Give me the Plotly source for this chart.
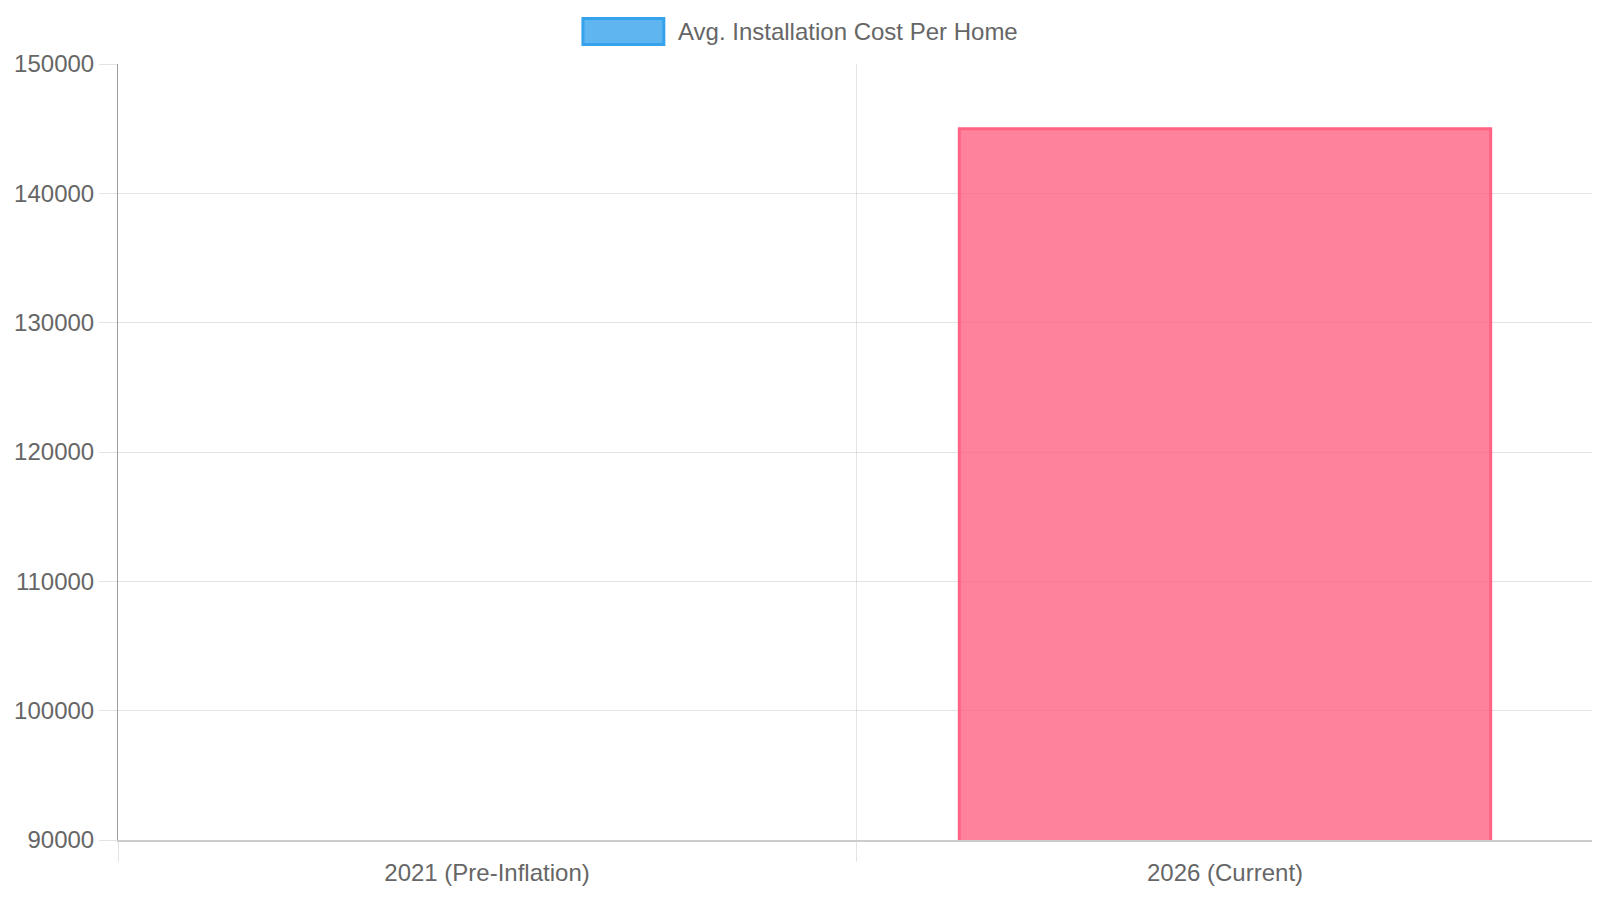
import plotly.graph_objects as go

categories = ['2021 (Pre-Inflation)', '2026 (Current)']
avg_cost = [85000, 145000]
series_name = 'Avg. Installation Cost Per Home'

fill_colors = ['rgba(54,162,235,0.8)', 'rgba(255,99,132,0.8)']
line_colors = ['rgb(54,162,235)', 'rgb(255,99,132)']

font_family = 'Liberation Sans, Arial, Helvetica, sans-serif'
grid = 'rgba(0,0,0,0.11)'

fig = go.Figure(data=[go.Bar(
    x=categories,
    y=avg_cost,
    name=series_name,
    width=0.72,
    marker=dict(color=fill_colors, line=dict(color=line_colors, width=3)),
    showlegend=False,
)])

# chart.js style legend box + label, drawn above the plot area
fig.add_shape(type='rect', xref='paper', yref='paper',
              x0=0.3150, x1=0.3698, y0=1.0251, y1=1.0586,
              fillcolor=fill_colors[0], line=dict(color=line_colors[0], width=3))
fig.add_annotation(text=series_name, xref='paper', yref='paper',
                   x=0.3782, y=1.0419, xanchor='left', yanchor='middle',
                   showarrow=False, font=dict(size=24, color='#666'))

fig.update_xaxes(
    type='category',
    tickson='boundaries',
    showgrid=True, gridcolor=grid, gridwidth=1,
    ticks='outside', ticklen=20, tickcolor=grid,
    ticklabelstandoff=10,
    showline=True, linecolor='rgba(0,0,0,0.2)', linewidth=2,
    tickfont=dict(size=24, color='#666'),
)
fig.update_yaxes(
    range=[90000, 150000],
    dtick=10000,
    tickformat='d',
    showgrid=True, gridcolor=grid, gridwidth=1,
    ticks='outside', ticklen=18, tickcolor=grid,
    showline=True, linecolor='rgba(0,0,0,0.38)', linewidth=1,
    zeroline=False,
    tickfont=dict(size=24, color='#666'),
)

# the page body adds an 8px offset, so the figure is sized to fit the window
fig.update_layout(
    width=1592, height=892,
    margin=dict(l=108, r=6, t=56, b=60),
    plot_bgcolor='white',
    paper_bgcolor='white',
    font=dict(family=font_family, color='#666'),
)

fig.write_html('out.html')
